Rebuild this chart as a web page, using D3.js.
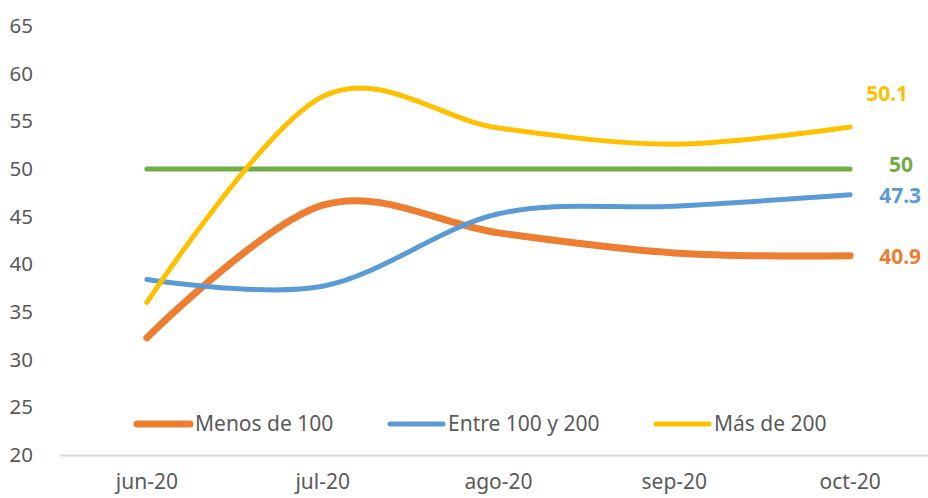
<!DOCTYPE html>
<html>
<head>
<meta charset="utf-8">
<script src="https://cdn.jsdelivr.net/npm/d3@7"></script>
<style>
  html, body { margin: 0; padding: 0; background: #fff; }
  text { font-family: "Noto Sans", sans-serif; }
</style>
</head>
<body>
<div id="chart"></div>
<script>
// Data
const months = ['jun-20', 'jul-20', 'ago-20', 'sep-20', 'oct-20'];
const menosDe100 = [32.3, 46.2, 43.3, 41.2, 40.9];
const entre100y200 = [38.4, 37.7, 45.3, 46.1, 47.3];
const masDe200 = [36.0, 57.6, 54.3, 52.6, 54.4];
const umbral = [50, 50, 50, 50, 50];
const yTicks = [20, 25, 30, 35, 40, 45, 50, 55, 60, 65];
const endLabels = ['40.9', '47.3', '50.1', '50'];

const width = 928, height = 498;

const svg = d3.select('#chart').append('svg')
    .attr('width', width)
    .attr('height', height);

// Scales
const x = d3.scaleBand()
    .domain(months)
    .range([59, 938]);

const y = d3.scaleLinear()
    .domain([20, 65])
    .range([455, 26]);

const cx = d => x(d) + x.bandwidth() / 2;

// Y tick labels (no axis line, no gridlines)
svg.append('g')
    .attr('transform', 'translate(33,0)')
    .call(d3.axisLeft(y).tickValues(yTicks).tickSize(0).tickPadding(0))
    .call(g => g.select('.domain').remove())
    .call(g => g.selectAll('text')
        .attr('fill', '#595959')
        .style('font-size', '20.5px')
        .style('font-family', '"Noto Sans", sans-serif'));

// Bottom axis
svg.append('g')
    .attr('transform', `translate(0,${y(20)})`)
    .call(d3.axisBottom(x).tickSize(0).tickPadding(19))
    .call(g => g.select('.domain')
        .attr('stroke', '#d9d9d9')
        .attr('stroke-width', 2))
    .call(g => g.selectAll('text')
        .attr('fill', '#595959')
        .style('font-size', '21px')
        .style('font-family', '"Noto Sans", sans-serif'));

// Series
const series = [
    {name: 'Umbral', values: umbral, color: '#70ad47', w: 5, label: endLabels[3], dy: -4, dx: 51},
    {name: 'Menos de 100', values: menosDe100, color: '#ed7d31', w: 7, label: endLabels[0], dy: 1, dx: 50},
    {name: 'Entre 100 y 200', values: entre100y200, color: '#5b9bd5', w: 5, label: endLabels[1], dy: 1, dx: 50},
    {name: 'Más de 200', values: masDe200, color: '#ffc000', w: 5, label: endLabels[2], dy: -33, dx: 37}
];

const line = d3.line()
    .x((d, i) => cx(months[i]))
    .y(d => y(d))
    .curve(d3.curveCardinal.tension(0));

svg.append('g')
    .selectAll('path')
    .data(series)
    .enter().append('path')
    .attr('d', d => line(d.values))
    .attr('fill', 'none')
    .attr('stroke', d => d.color)
    .attr('stroke-width', d => d.w)
    .attr('stroke-linecap', 'round')
    .attr('stroke-linejoin', 'round');

// End labels
svg.append('g')
    .selectAll('text')
    .data(series)
    .enter().append('text')
    .attr('x', d => cx(months[months.length - 1]) + d.dx)
    .attr('y', d => y(d.values[d.values.length - 1]) + d.dy)
    .attr('dy', '0.35em')
    .attr('text-anchor', 'middle')
    .attr('fill', d => d.color)
    .style('font-size', '21px')
    .style('font-weight', 'bold')
    .text(d => d.label);

// Legend (inside plot, bottom)
const legendItems = series.slice(1);
const legendX = [137, 390, 656];
const legend = svg.append('g')
    .attr('transform', 'translate(0,424)');

legendItems.forEach((item, i) => {
    const g = legend.append('g')
        .attr('transform', `translate(${legendX[i]},0)`);

    g.append('line')
        .attr('x1', 0)
        .attr('x2', 53)
        .attr('stroke', item.color)
        .attr('stroke-width', item.w)
        .attr('stroke-linecap', 'round');

    g.append('text')
        .attr('x', 58)
        .attr('dy', '0.35em')
        .attr('fill', '#595959')
        .style('font-size', '21px')
        .text(item.name);
});
</script>
</body>
</html>
